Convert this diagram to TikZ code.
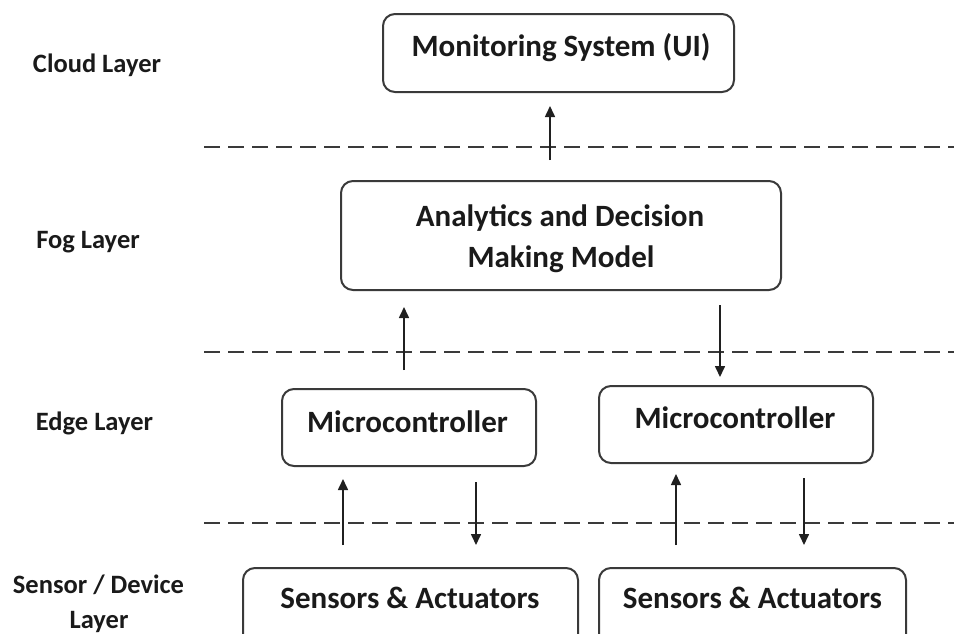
\documentclass[tikz,border=0pt]{standalone}
\usepackage{fontspec}
\setmainfont{Carlito}
\usetikzlibrary{arrows.meta}
\definecolor{boxc}{HTML}{3A3A3A}
\definecolor{txtc}{HTML}{1A1A1A}
\definecolor{arrc}{HTML}{202020}
\begin{document}
\begin{tikzpicture}[x=1pt,y=-1pt,
  box/.style={draw=boxc, line width=2pt, rounded corners=12pt, inner sep=0pt},
  btxt/.style={font=\bfseries\fontsize{31}{41}\selectfont, text=txtc, anchor=base, inner sep=0pt},
  ltxt/.style={font=\bfseries\fontsize{26.5}{35}\selectfont, text=txtc, anchor=base, inner sep=0pt},
  sepline/.style={draw=boxc, line width=2pt, dash pattern=on 16pt off 8pt},
  arr/.style={draw=arrc, line width=1.6pt, -{Triangle[length=11pt,width=10pt]}}]
\useasboundingbox (0,0) rectangle (954,633);
\clip (0,0) rectangle (954,633);

% layer labels
\node[ltxt] (lcloud) at (97,72) {Cloud Layer};
\node[ltxt] (lfog) at (88,248) {Fog Layer};
\node[ltxt] (ledge) at (94.5,430) {Edge Layer};
\node[ltxt] (lsens1) at (98.5,593) {Sensor / Device};
\node[ltxt] (lsens2) at (99,628) {Layer};

% separators
\draw[sepline] (204,147) -- (954,147);
\draw[sepline] (204,352) -- (954,352);
\draw[sepline] (204,523) -- (954,523);

% boxes
\node[box, minimum width=351pt, minimum height=78pt] (mon) at (558.5,53) {};
\node[box, minimum width=440pt, minimum height=109pt] (ana) at (561,235.5) {};
\node[box, minimum width=254pt, minimum height=77pt] (mcL) at (409,427.5) {};
\node[box, minimum width=274pt, minimum height=77pt] (mcR) at (736,424.5) {};
\node[box, minimum width=335pt, minimum height=92pt] (ssL) at (410.5,614) {};
\node[box, minimum width=307pt, minimum height=92pt] (ssR) at (752.5,614) {};

% box texts
\node[btxt] (tmon) at (561,56) {Monitoring System (UI)};
\node[btxt] (tana1) at (560,226) {Analytics and Decision};
\node[btxt] (tana2) at (561,267) {Making Model};
\node[btxt] (tmcL) at (407.5,432) {Microcontroller};
\node[btxt] (tmcR) at (735,428) {Microcontroller};
\node[btxt] (tssL) at (410,608) {Sensors \& Actuators};
\node[btxt] (tssR) at (752.5,608) {Sensors \& Actuators};

% arrows
\draw[arr, shorten <=20pt, shorten >=13pt] (ana.north -| 550,0) -- (mon.south -| 550,0);
\draw[arr, shorten <=18pt, shorten >=16pt] (mcL.north -| 404,0) -- (ana.south -| 404,0);
\draw[arr, shorten <=14pt, shorten >=8pt] (ana.south -| 720,0) -- (mcR.north -| 720,0);
\draw[arr, shorten <=22pt, shorten >=12pt] (ssL.north -| 343,0) -- (mcL.south -| 343,0);
\draw[arr, shorten <=15pt, shorten >=22pt] (mcL.south -| 476,0) -- (ssL.north -| 476,0);
\draw[arr, shorten <=22pt, shorten >=10pt] (ssR.north -| 676,0) -- (mcR.south -| 676,0);
\draw[arr, shorten <=14pt, shorten >=22pt] (mcR.south -| 804,0) -- (ssR.north -| 804,0);
\end{tikzpicture}
\end{document}
